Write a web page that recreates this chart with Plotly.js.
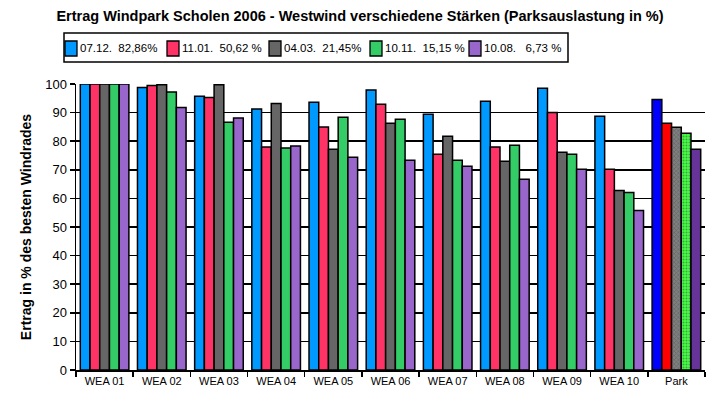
<!DOCTYPE html>
<html>
<head>
<meta charset="utf-8">
<script src="https://cdn.plot.ly/plotly-3.0.1.min.js"></script>
<style>
  body { margin: 0; background: #fff; }
  #chart { width: 720px; height: 402px; }
</style>
</head>
<body>
<div id="chart"></div>
<script>
// Ertrag je Anlage, in % der besten Anlage
var categories = ['WEA 01','WEA 02','WEA 03','WEA 04','WEA 05','WEA 06','WEA 07','WEA 08','WEA 09','WEA 10','Park'];

var names = ['07.12.\u00a0\u00a082,86%', '11.01.\u00a0\u00a050,62 %', '04.03.\u00a0\u00a021,45%', '10.11.\u00a0\u00a015,15 %', '10.08.\u00a0\u00a0\u00a06,73 %'];

var d0712 = [100, 98.8, 95.7, 91.3, 93.6, 97.9, 89.4, 94.0, 98.5, 88.7, 94.6];
var d1101 = [100, 99.5, 95.3, 78.0, 85.0, 92.9, 75.4, 78.0, 90.0, 70.2, 86.3];
var d0403 = [100, 99.7, 99.7, 93.2, 77.2, 86.3, 81.7, 73.0, 76.1, 62.8, 84.9];
var d1011 = [100, 97.2, 86.6, 77.6, 88.4, 87.7, 73.3, 78.6, 75.4, 62.1, 82.8];
var d1008 = [100, 91.8, 88.1, 78.3, 74.4, 73.3, 71.2, 66.7, 70.2, 55.8, 77.2];

var colors = ['#0099ff', '#ff3366', '#666666', '#33cc66', '#9966cc'];
var parkColors = ['#0000ff', '#ff0000', '#808080', '#44ff44', '#663399'];
var parkPattern = ['', '', 'x', '.', ''];
var patternFg = ['#000', '#000', '#333333', '#00bb00', '#000'];
var series = [d0712, d1101, d0403, d1011, d1008];

var W = 720, H = 402;
var M = {l: 76, r: 15, t: 84, b: 32};
// pixel -> paper coords (for the hand made legend box)
function px(x) { return (x - M.l) / (W - M.l - M.r); }
function py(y) { return (H - M.b - y) / (H - M.t - M.b); }

var data = [];
for (var s = 0; s < series.length; s++) {
  var cols = [];
  var shapes = [];
  for (var i = 0; i < categories.length; i++) {
    var park = categories[i] == 'Park';
    cols.push(park ? parkColors[s] : colors[s]);
    shapes.push(park ? parkPattern[s] : '');
  }
  data.push({
    x: categories,
    y: series[s],
    type: 'bar',
    name: names[s],
    marker: {
      color: cols,
      line: {color: '#000', width: 1.5},
      pattern: {shape: shapes, fillmode: 'overlay', fgcolor: patternFg[s], size: 3, solidity: 0.35}
    },
    hoverinfo: 'x+y'
  });
}

// legend: box, swatches, labels
var legShapes = [{
  type: 'rect', xref: 'paper', yref: 'paper',
  x0: px(64), x1: px(568), y0: py(62), y1: py(33),
  line: {color: '#000', width: 1.5}, fillcolor: '#fff', layer: 'above'
}];
var legAnn = [];
var swX = [65, 167, 269, 370, 469];
for (var k = 0; k < names.length; k++) {
  legShapes.push({
    type: 'rect', xref: 'paper', yref: 'paper',
    x0: px(swX[k]), x1: px(swX[k] + 12), y0: py(56), y1: py(41),
    line: {color: '#000', width: 1.3}, fillcolor: colors[k], layer: 'above'
  });
  legAnn.push({
    xref: 'paper', yref: 'paper',
    x: px(swX[k] + 13), y: py(48.5), xanchor: 'left', yanchor: 'middle',
    text: names[k], showarrow: false, font: {size: 11.5}
  });
}

var layout = {
  width: W,
  height: H,
  margin: M,
  paper_bgcolor: '#fff',
  plot_bgcolor: '#fff',
  font: {family: 'Liberation Sans, Arial, sans-serif', color: '#000', size: 13},
  title: {
    text: '<b>Ertrag Windpark Scholen 2006 - Westwind verschiedene Stärken (Parksauslastung in %)</b>',
    font: {size: 14.5},
    x: 0.5, xanchor: 'center',
    y: 0.96, yanchor: 'middle'
  },
  barmode: 'group',
  bargap: 0.15,
  bargroupgap: 0,
  showlegend: false,
  shapes: legShapes,
  annotations: legAnn,
  xaxis: {
    type: 'category',
    showline: true, linecolor: '#000', linewidth: 1.5,
    ticks: 'outside', tickson: 'boundaries', ticklen: 5, tickcolor: '#000', tickwidth: 1.5,
    tickfont: {size: 11},
    showgrid: false,
    fixedrange: true
  },
  yaxis: {
    range: [0, 100],
    dtick: 10,
    showline: true, linecolor: '#000', linewidth: 1.5,
    ticks: 'outside', ticklen: 5, tickcolor: '#000', tickwidth: 1.5,
    showgrid: true, gridcolor: '#000', gridwidth: 1.5,
    zeroline: false,
    tickfont: {size: 13},
    title: {text: '<b>Ertrag in % des besten Windrades</b>', font: {size: 14}, standoff: 10},
    fixedrange: true
  }
};

Plotly.newPlot('chart', data, layout, {displayModeBar: false, staticPlot: true});
</script>
</body>
</html>
